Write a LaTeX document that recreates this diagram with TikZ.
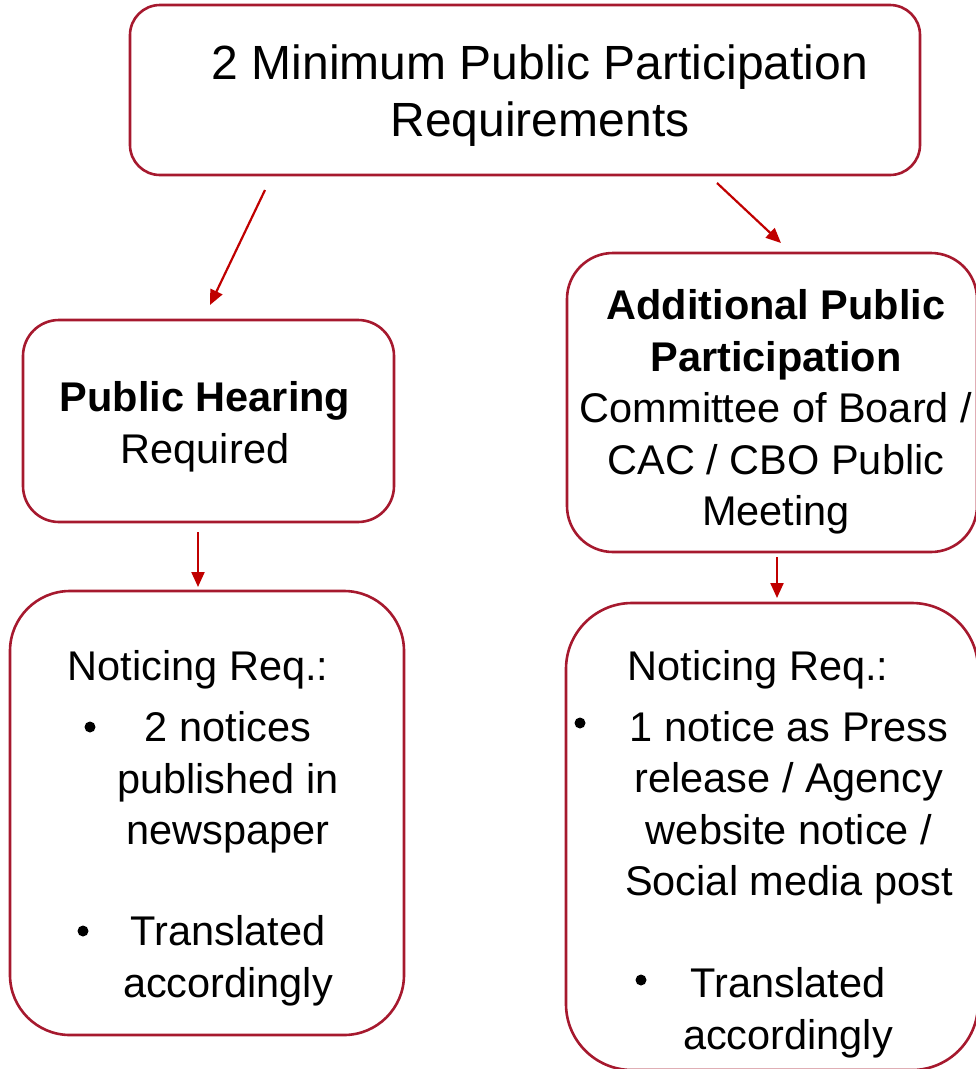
\documentclass[tikz,border=0pt]{standalone}
\usepackage{fontspec}
\setmainfont{Liberation Sans}
\usepackage{xcolor}
\usetikzlibrary{positioning,calc,arrows.meta}
\definecolor{boxred}{HTML}{A6192E}
\definecolor{arrred}{HTML}{C00000}
\newcommand{\hugetxt}{\fontsize{48}{57}\selectfont}
\newcommand{\bigtxt}{\fontsize{41.5}{51.5}\selectfont}

\begin{document}
\begin{tikzpicture}[x=1pt, y=-1pt,
        box/.style={draw=boxred, line width=2.6pt, rectangle, inner sep=0pt},
        txt/.style={align=center, inner sep=0pt, text=black},
        dot/.style={circle, fill=black, inner sep=0pt, minimum size=11pt},
        >={Triangle[length=15pt, width=13pt]}
    ]
        \useasboundingbox (0,0) rectangle (976,1069);
        \clip (0,0) rectangle (976,1069);

        % boxes
        \node [box, rounded corners=30pt, minimum width=790pt, minimum height=170pt] (req) at (525,90) {};
        \node [box, rounded corners=36pt, minimum width=371pt, minimum height=202pt] (hear) at (208.5,421) {};
        \node [box, rounded corners=46pt, minimum width=410pt, minimum height=299pt] (add) at (772,402.5) {};
        \node [box, rounded corners=60pt, minimum width=394pt, minimum height=444pt] (nleft) at (207,813) {};
        \node [box, rounded corners=66pt, minimum width=412pt, minimum height=467pt] (nright) at (772,836.5) {};

        % texts
        \node [txt, font=\hugetxt] (reqtxt) at (540,96) {2 Minimum Public Participation\\Requirements};
        \node [txt, font=\bigtxt] (heartxt) at (205,427) {\bfseries Public Hearing\\Required};
        \node [txt, font=\bigtxt] (addtxt) at (776,412) {{\bfseries Additional Public}\\{\bfseries Participation}\\Committee of Board /\\CAC / CBO Public\\Meeting};

        \node [txt, font=\bigtxt] (lhead) at (198,669.5) {Noticing Req.:};
        \node [txt, font=\bigtxt] (lone) at (228,782.5) {2 notices\\published in\\newspaper};
        \node [txt, font=\bigtxt] (ltwo) at (228,961) {Translated\\accordingly};
        \node [dot] (ldot1) at (90,727) {};
        \node [dot] (ldot2) at (83,931) {};

        \node [txt, font=\bigtxt] (rhead) at (758,669.5) {Noticing Req.:};
        \node [txt, font=\bigtxt] (rone) at (789,808) {1 notice as Press\\release / Agency\\website notice /\\Social media post};
        \node [txt, font=\bigtxt] (rtwo) at (788,1013) {Translated\\accordingly};
        \node [dot] (rdot1) at (580,723) {};
        \node [dot] (rdot2) at (641,980) {};

        % arrow ends
        \coordinate (a1s) at (265,190);
        \coordinate (a1e) at (210,305);
        \coordinate (a2s) at (717,183);
        \coordinate (a2e) at (781,243);
        \coordinate (a3s) at (198,532);
        \coordinate (a3e) at (198,587);
        \coordinate (a4s) at (777,557);
        \coordinate (a4e) at (777,598);

        \draw [->, arrred, line width=2.2pt] (a1s) -- (a1e);
        \draw [->, arrred, line width=2.2pt] (a2s) -- (a2e);
        \draw [->, arrred, line width=2.2pt] (a3s) -- (a3e);
        \draw [->, arrred, line width=2.2pt] (a4s) -- (a4e);
    \end{tikzpicture}
\end{document}
